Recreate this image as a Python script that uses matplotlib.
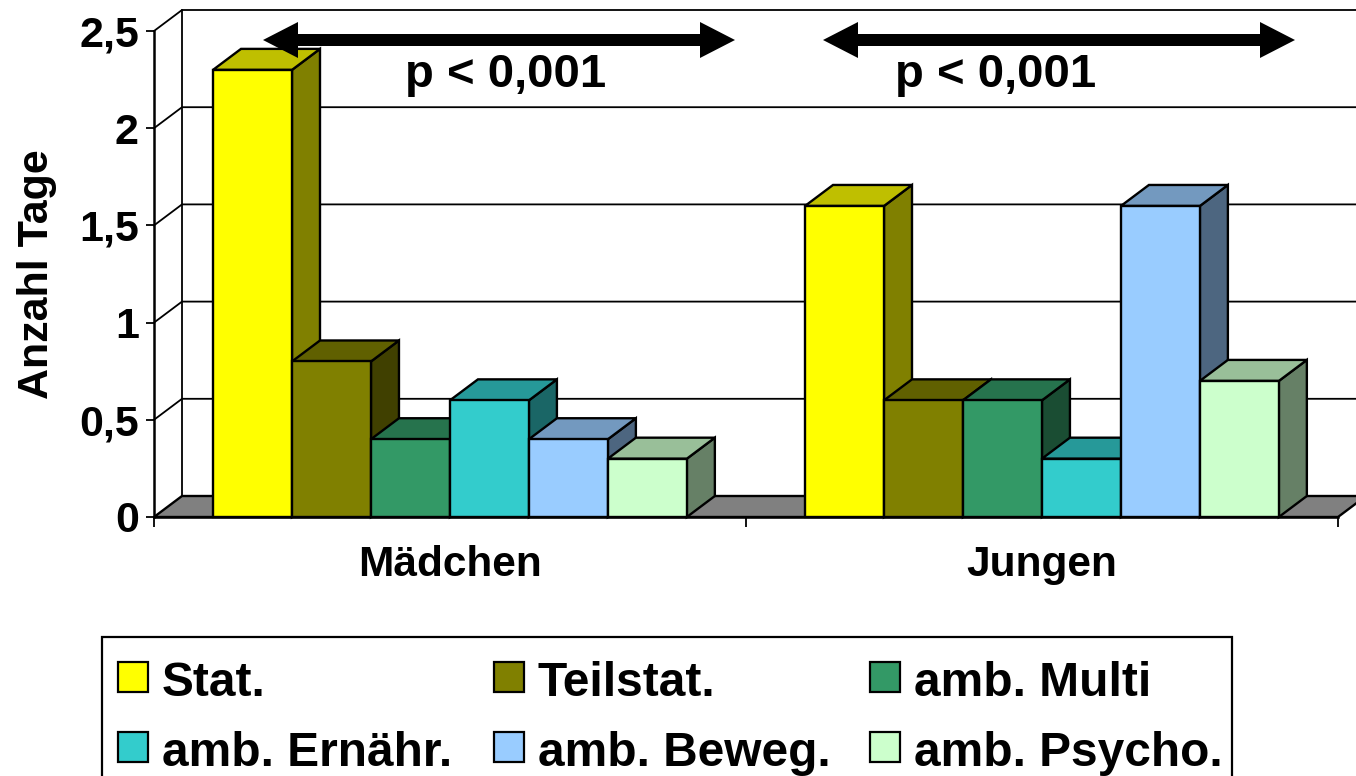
import matplotlib
matplotlib.use("Agg")
import matplotlib.pyplot as plt
from matplotlib.patches import Polygon, Rectangle
from matplotlib.transforms import Affine2D
from matplotlib.colors import to_rgb

plt.rcParams['font.family'] = ['Liberation Sans', 'DejaVu Sans']
plt.rcParams['font.weight'] = 'bold'

groups = ["Mädchen", "Jungen"]
series = ["Stat.", "Teilstat.", "amb. Multi", "amb. Ernähr.", "amb. Beweg.", "amb. Psycho."]
colors = ["#FFFF00", "#808000", "#339966", "#33CCCC", "#99CCFF", "#CCFFCC"]
values_maedchen = [2.3, 0.8, 0.4, 0.6, 0.4, 0.3]
values_jungen = [1.6, 0.6, 0.6, 0.3, 1.6, 0.7]
y_ticks = [0, 0.5, 1, 1.5, 2, 2.5]
y_labels = ["0", "0,5", "1", "1,5", "2", "2,5"]
annotation = "p < 0,001"

W, H = 1356, 776
fig = plt.figure(figsize=(W / 100, H / 100), dpi=100, facecolor="white")
L, R, T, B = 154, 1338, 31, 517
ax = fig.add_axes([L / W, 1 - B / H, (R - L) / W, (B - T) / H])
ax.set_xlim(0, 2)
ax.set_ylim(0, 2.5)
ax.patch.set_visible(False)
px = Affine2D().scale(1, -1).translate(0, H)  # reference pixel coordinates

ux = 2 / (R - L)
uy = 2.5 / (B - T)
dx, dy = 28 * ux, 21 * uy
x_end = 2 + dx
LW = 1.7
GW = 1.3


def shade(c, f):
    return tuple(v * f for v in to_rgb(c))


# floor
ax.add_patch(Polygon([(0, 0), (dx, dy), (x_end, dy), (x_end - dx, 0)], closed=True,
                     fc="#808080", ec="black", lw=LW, zorder=1, clip_on=False))
# back wall and grid lines
for t in y_ticks[1:]:
    ax.plot([0, dx, x_end], [t, t + dy, t + dy], color="black", lw=GW, zorder=0.5, clip_on=False)
ax.plot([dx, dx], [dy, 2.5 + dy], color="black", lw=GW, zorder=0.5, clip_on=False)

# bars
offset, width = 0.0997, 0.1334
z = 2
for g, vals in enumerate([values_maedchen, values_jungen]):
    for i, (v, c) in enumerate(zip(vals, colors)):
        x0 = g + offset + i * width
        x1 = x0 + width
        ax.add_patch(Polygon([(x1, 0), (x1 + dx, dy), (x1 + dx, v + dy), (x1, v)], closed=True,
                             fc=shade(c, 0.5), ec="black", lw=LW, zorder=z, clip_on=False))
        ax.add_patch(Polygon([(x0, v), (x0 + dx, v + dy), (x1 + dx, v + dy), (x1, v)], closed=True,
                             fc=shade(c, 0.75), ec="black", lw=LW, zorder=z, clip_on=False))
        ax.bar(x0, v, width=width, align="edge", color=c, edgecolor="black", lw=LW,
               zorder=z + 0.1, clip_on=False)
        z += 0.2

# axes
for s in ("top", "right"):
    ax.spines[s].set_visible(False)
for s in ("left", "bottom"):
    ax.spines[s].set_linewidth(1.8)
    ax.spines[s].set_zorder(z)
ax.set_yticks(y_ticks, y_labels, fontsize=31, fontweight="bold")
ax.tick_params(axis="y", length=5.8, width=1.3, pad=5)
ax.set_xticks([0, 1, 2], ["", "", ""])
ax.set_xticks([0.5, 1.5], groups, minor=True, fontsize=30.5, fontweight="bold")
ax.tick_params(axis="x", which="major", length=7, width=1.3)
ax.tick_params(axis="x", which="minor", length=0, pad=20)
fig.text(37 / W, 1 - 274 / H, "Anzahl Tage", rotation=90, ha="center", va="center",
         fontsize=31, fontweight="bold")

# arrows and p values
zt = z + 5
for xa, xb, xt in [(263, 735, 506), (823, 1295, 996)]:
    h = 35
    ym = 40
    pts = [(xa, ym), (xa + h, ym - 18), (xa + h, ym - 6), (xb - h, ym - 6), (xb - h, ym - 18),
           (xb, ym), (xb - h, ym + 18), (xb - h, ym + 6), (xa + h, ym + 6), (xa + h, ym + 18)]
    fig.add_artist(Polygon(pts, closed=True, fc="black", ec="none", transform=px, zorder=zt))
    fig.text(xt, 75, annotation, transform=px, ha="center", va="center",
             fontsize=34, fontweight="bold", zorder=zt)

# legend
fig.add_artist(Rectangle((102, 637), 1130, 160, fc="white", ec="black", lw=1.6, transform=px, zorder=zt))
lx = [118, 494, 870]
ly = [677, 747]
for i, (name, c) in enumerate(zip(series, colors)):
    x = lx[i % 3]
    y = ly[i // 3]
    fig.add_artist(Rectangle((x, y - 15), 30, 30, fc=c, ec="black", lw=1.6, transform=px, zorder=zt + 1))
    fig.text(x + 44, y + 1, name, transform=px, ha="left", va="center_baseline",
             fontsize=34.5, fontweight="bold", zorder=zt + 1)

fig.savefig("out.png", dpi=100)
